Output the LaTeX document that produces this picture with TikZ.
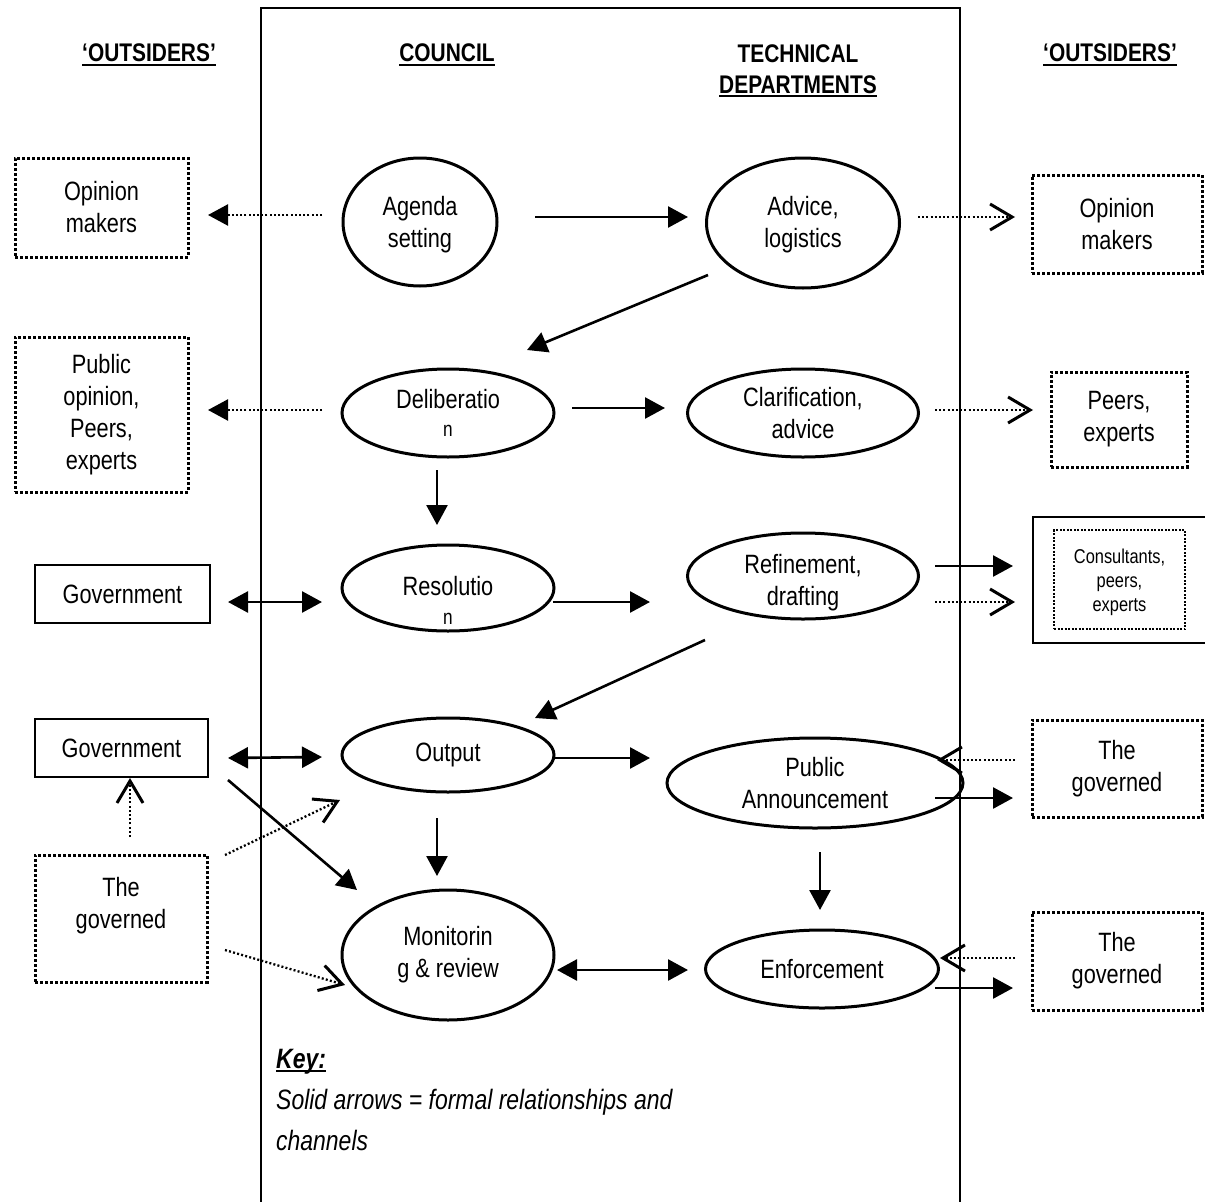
\documentclass[tikz,border=0pt]{standalone}
\usepackage{fontspec}
\setmainfont{Liberation Sans}[FakeStretch=0.82]
\usetikzlibrary{arrows.meta,shapes.geometric}

% thick underline for headings
\newcommand\ulin[1]{\setbox0\hbox{#1}\rlap{\rule[-4pt]{\wd0}{2.2pt}}\box0}

\tikzset{
  lbl/.style={font=\fontsize{26.5}{32}\selectfont, align=center, inner sep=0pt},
  head/.style={font=\fontsize{25.5}{31}\selectfont\bfseries, align=center, inner sep=0pt},
  stage/.style={ellipse, draw, line width=3pt, lbl},
  solidbox/.style={rectangle, draw, line width=2.5pt, lbl},
  dotbox/.style={rectangle, draw, line width=3pt, dash pattern=on 3pt off 2pt, lbl},
  filltip/.tip={Triangle[length=20pt,width=21pt]},
  opentip/.tip={Straight Barb[length=22pt,width=26pt,line width=3pt]},
  sarr/.style={line width=2.6pt, -filltip},
  sboth/.style={line width=2.6pt, filltip-filltip},
  dfill/.style={line width=2.3pt, dash pattern=on 2pt off 2.2pt, -filltip},
  dopen/.style={line width=2.3pt, dash pattern=on 2pt off 2.2pt, -opentip},
}

\begin{document}
\begin{tikzpicture}[x=1pt,y=-1pt]
\useasboundingbox (0,0) rectangle (1205,1202);

% frame around the council and departments columns
\draw[line width=2.5pt] (261,1210) -- (261,8) -- (960,8) -- (960,1210);

% column headings
\node[head] (hOutL) at (149,55) {\ulin{‘OUTSIDERS’}};
\node[head] (hCouncil) at (447,55) {\ulin{COUNCIL}};
\node[head, anchor=north] (hTech) at (798,44) {TECHNICAL\\ \ulin{DEPARTMENTS}};
\node[head] (hOutR) at (1110,55) {\ulin{‘OUTSIDERS’}};

% council stages
\node[stage, minimum width=154, minimum height=128,
      label={[lbl, yshift=-3pt]center:Agenda\\setting}] (agenda) at (420,222) {};
\node[stage, minimum width=212, minimum height=88] (delib) at (448,413) {Deliberatio\\[-4pt]{\fontsize{21}{28}\selectfont n}};
\node[stage, minimum width=212, minimum height=86,
      label={[lbl, yshift=-12pt]center:Resolutio\\[-3pt]{\fontsize{21}{28}\selectfont n}}] (resol) at (448,588) {};
\node[stage, minimum width=212, minimum height=74] (output) at (448,755) {Output};
\node[stage, minimum width=212, minimum height=130] (monitor) at (448,955) {Monitorin\\g \& review};

% technical department stages
\node[stage, minimum width=193, minimum height=130,
      label={[lbl, yshift=-2pt]center:Advice,\\logistics}] (advice) at (803,223) {};
\node[stage, minimum width=231, minimum height=88] (clarif) at (803,413) {Clarification,\\advice};
\node[stage, minimum width=231, minimum height=86,
      label={[lbl, yshift=-7pt]center:Refinement,\\drafting}] (refine) at (803,576) {};
\node[stage, minimum width=296, minimum height=90] (announce) at (815,783) {Public\\Announcement};
\node[stage, minimum width=233, minimum height=78] (enforce) at (822,969) {Enforcement};

% outsiders, left
\node[dotbox, minimum width=173, minimum height=99] (opinL) at (101.5,207.5) {Opinion\\makers};
\node[dotbox, minimum width=173, minimum height=155] (pubop) at (101.5,414.5) {Public\\opinion,\\Peers,\\experts};
\node[solidbox, minimum width=175, minimum height=58] (gov1) at (122.5,594) {Government};
\node[solidbox, minimum width=173, minimum height=58] (gov2) at (121.5,748) {Government};
\node[dotbox, minimum width=172, minimum height=127] (govd) at (121,918.5) {The\\governed\\~};

% outsiders, right
\node[dotbox, minimum width=170, minimum height=98] (opinR) at (1117,224) {Opinion\\makers};
\node[dotbox, minimum width=136, minimum height=95] (peers) at (1119,419.5) {Peers,\\experts};
\node[solidbox, minimum width=182, minimum height=126] (consult) at (1124,580) {};
\node[dotbox, line width=2pt, dash pattern=on 2pt off 1.5pt, minimum width=131, minimum height=99,
      label={[lbl, font=\fontsize{20}{24}\selectfont, yshift=-3pt]center:Consultants,\\peers,\\experts}]
      (consultIn) at (1119.5,579.5) {};
\node[dotbox, minimum width=170, minimum height=97] (gov3) at (1117,768.5) {The\\governed};
\node[dotbox, minimum width=170, minimum height=98] (gov4) at (1117,961) {The\\governed};

% formal channels
\draw[sarr] ([shift={(115,-5)}]agenda.center) -- ([shift={(-115,-6)}]advice.center);
\draw[sarr] ([shift={(-95,52)}]advice.center) -- ([shift={(79,-63)}]delib.center);
\draw[sarr] ([shift={(124,-5)}]delib.center) -- ([shift={(-138,-5)}]clarif.center);
\draw[sarr] ([shift={(-11,57)}]delib.center) -- ([shift={(-11,-63)}]resol.center);
\draw[sarr] ([shift={(105,14)}]resol.center) -- ([shift={(-153,26)}]refine.center);
\draw[sarr] ([shift={(-98,64)}]refine.center) -- ([shift={(87,-37)}]output.center);
\draw[sarr] ([shift={(105,3)}]output.center) -- ([shift={(-165,-25)}]announce.center);
\draw[sarr] ([shift={(-11,63)}]output.center) -- ([shift={(-11,-79)}]monitor.center);
\draw[sarr] ([shift={(5,69)}]announce.center) -- ([shift={(-2,-59)}]enforce.center);
\draw[sboth] ([shift={(109,15)}]monitor.center) -- ([shift={(-134,1)}]enforce.center);
\draw[sboth] ([shift={(105.5,8)}]gov1.center) -- ([shift={(-126,14)}]resol.center);
\draw[sboth] ([shift={(106.5,10)}]gov2.center) -- ([shift={(-126,2)}]output.center);
\draw[sarr] ([shift={(106.5,32)}]gov2.center) -- ([shift={(-91,-65)}]monitor.center);
\draw[sarr] ([shift={(132,-10)}]refine.center) -- ([shift={(-111,-14)}]consult.center);
\draw[sarr] ([shift={(120,15)}]announce.center) -- ([shift={(-104,29.5)}]gov3.center);
\draw[sarr] ([shift={(113,19)}]enforce.center) -- ([shift={(-104,27)}]gov4.center);

% informal channels
\draw[dfill] ([shift={(-98,-7)}]agenda.center) -- ([shift={(106.5,7.5)}]opinL.center);
\draw[dfill] ([shift={(-126,-3)}]delib.center) -- ([shift={(106.5,-4.5)}]pubop.center);
\draw[dopen] ([shift={(115,-6)}]advice.center) -- ([shift={(-102,-7)}]opinR.center);
\draw[dopen] ([shift={(132,-3)}]clarif.center) -- ([shift={(-86,-9.5)}]peers.center);
\draw[dopen] ([shift={(132,26)}]refine.center) -- ([shift={(-109,22)}]consult.center);
\draw[dopen] ([shift={(-102,-8.5)}]gov3.center) -- ([shift={(122,-23)}]announce.center);
\draw[dopen] ([shift={(-102,-3)}]gov4.center) -- ([shift={(118,-11)}]enforce.center);
\draw[dopen] ([shift={(9,-81.5)}]govd.center) -- ([shift={(8.5,30)}]gov2.center);
\draw[dopen] ([shift={(104,-63.5)}]govd.center) -- ([shift={(-108,45)}]output.center);
\draw[dopen] ([shift={(104,31.5)}]govd.center) -- ([shift={(-103,30)}]monitor.center);

% key
\node[anchor=north west, align=left, inner sep=0pt, font=\fontsize{28}{41}\selectfont\itshape]
  (key) at (276,1049) {\ulin{\bfseries Key:}\\Solid arrows = formal relationships and\\channels};
\end{tikzpicture}
\end{document}
